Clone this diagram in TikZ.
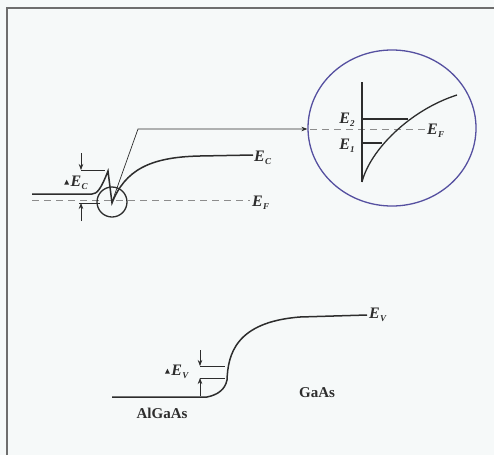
\documentclass[tikz,border=0pt]{standalone}
\usepackage{fontspec}
\setmainfont{Liberation Serif}
\usetikzlibrary{shapes.geometric,arrows.meta}
\definecolor{bg}{RGB}{246,249,249}
\definecolor{frame}{RGB}{110,110,110}
\definecolor{band}{RGB}{45,45,45}
\definecolor{ring}{RGB}{85,80,160}
\definecolor{dash}{RGB}{140,140,140}
\newcommand{\Elab}[1]{\textit{E}\kern0.3pt\raisebox{-0.35ex}{\fontsize{9}{10}\selectfont\textit{#1}}}
\newcommand{\tri}{\raisebox{0.3ex}{\tikz\fill[band] (0,0) -- (5pt,0) -- (2.5pt,5pt) -- cycle;}\kern1.5pt}
\tikzset{
  bandline/.style={draw=band,line width=1.5pt},
  fermi/.style={draw=dash,line width=0.9pt,dash pattern=on 7pt off 5pt},
  thin/.style={draw=band,line width=0.7pt},
  dim/.style={draw=band,line width=0.7pt,-{Stealth[length=6pt,width=4.5pt]}},
  lab/.style={font=\fontsize{16}{18}\selectfont\bfseries,inner sep=0pt,text=band},
  mat/.style={font=\fontsize{15}{17}\selectfont\bfseries,inner sep=0pt,text=band},
}
\begin{document}
\begin{tikzpicture}[x=1pt,y=-1pt]
\fill[bg] (0,0) rectangle (494,455);
\useasboundingbox (0,0) rectangle (494,455);
% frame
\draw[frame,line width=1.8pt] (7,455) -- (7,8) -- (494,8);

% conduction band
\draw[fermi] (32,200) -- (250,200);
\node[lab,anchor=west] (ef) at (252,203) {\Elab{F}};
\draw[bandline] (32,194) -- (92,194) .. controls (97,194) and (101,189) .. (108,171) -- (112,203)
  .. controls (125,170) and (150,157) .. (200,156) -- (253,155);
\node[lab,anchor=west] (ec) at (254,158) {\Elab{C}};

% Delta E_C
\draw[thin] (81,170) -- (105,170);
\draw[thin] (79,203) -- (100,203);
\draw[dim] (81,153) -- (81,170);
\draw[dim] (81,221) -- (81,203);
\node[lab] (dec) at (76,183) {\tri\Elab{C}};

% small circle and connector
\node[circle,draw=band,line width=1.3pt,minimum size=30pt,inner sep=0pt] (spot) at (112,202) {};
\node[ellipse,draw=ring,line width=1.3pt,minimum width=168pt,minimum height=156pt,inner sep=0pt] (zoom) at (392,128) {};
\coordinate (bend) at (138,129);
\draw[thin,-{Stealth[length=6pt,width=4.5pt]}] (spot.center) -- (bend) -- (bend -| zoom.west);

% inside zoom
\draw[fermi] (310,129) -- (426,129);
\node[lab,anchor=west] (ef2) at (427,131) {\Elab{F}};
\draw[bandline,line width=1.3pt] (362,82) -- (362,182);
\draw[bandline,line width=1.3pt] (362,182) .. controls (370,150) and (410,110) .. (457,95);
\draw[bandline,line width=1.2pt] (362,119) -- (408,119);
\draw[bandline,line width=1.2pt] (362,143) -- (382,143);
\node[lab] (e2) at (347,120) {\Elab{2}};
\node[lab] (e1) at (347,146) {\Elab{1}};

% valence band
\draw[bandline] (112,397) -- (207,397) .. controls (217,395) and (225,390) .. (227,380)
  .. controls (228,355) and (235,322) .. (300,317) -- (367,315);
\node[lab,anchor=west] (ev) at (369,315) {\Elab{V}};
\draw[thin] (200,366) -- (225,366);
\draw[thin] (200,378) -- (225,378);
\draw[dim] (200,350) -- (200,366);
\draw[dim] (200,396) -- (200,378);
\node[lab] (dev) at (177,372) {\tri\Elab{V}};

\node[mat] (gaas) at (317,393) {GaAs};
\node[mat] (algaas) at (162,413) {AlGaAs};
\end{tikzpicture}
\end{document}
